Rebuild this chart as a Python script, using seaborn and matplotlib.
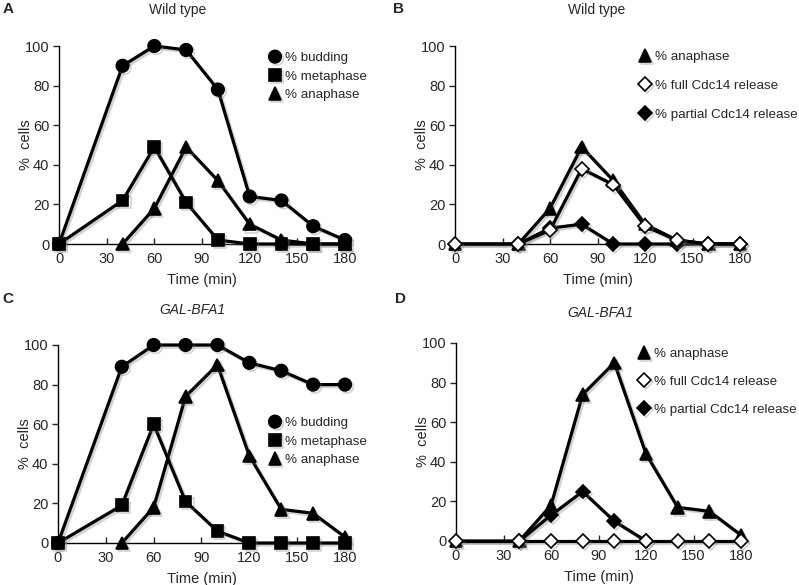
import matplotlib
matplotlib.use("Agg")
import matplotlib.pyplot as plt
import matplotlib.patheffects as pe
from matplotlib.lines import Line2D
import seaborn as sns

sns.set_style("white")
plt.rcParams['font.family'] = ['Liberation Sans', 'DejaVu Sans']

time = [0, 40, 60, 80, 100, 120, 140, 160, 180]
time_from40 = [40, 60, 80, 100, 120, 140, 160, 180]
time_d_partial = [40, 60, 80, 100, 120]

# panel A - wild type
wt_budding = [0, 90, 100, 98, 78, 24, 22, 9, 2]
wt_metaphase = [0, 22, 49, 21, 2, 0, 0, 0, 0]
wt_anaphase_a = [0, 18, 49, 32, 10, 2, 0, 0]

# panel B - wild type Cdc14
wt_anaphase_b = [0, 0, 18, 49, 32, 10, 2, 0, 0]
wt_full = [0, 0, 7, 38, 30, 9, 2, 0, 0]
wt_partial = [0, 8, 10, 0, 0, 0, 0, 0]

# panel C - GAL-BFA1
gal_budding = [0, 89, 100, 100, 100, 91, 87, 80, 80]
gal_metaphase = [0, 19, 60, 21, 6, 0, 0, 0, 0]
gal_anaphase_c = [0, 18, 74, 90, 44, 17, 15, 3]

# panel D - GAL-BFA1 Cdc14
gal_anaphase_d = [0, 0, 18, 74, 90, 44, 17, 15, 3]
gal_full = [0, 0, 0, 0, 0, 0, 0, 0, 0]
gal_partial = [0, 13, 25, 10, 0]

W, H = 799, 585
fig = plt.figure(figsize=(W / 100, H / 100), dpi=100)

shadow = [pe.SimpleLineShadow(offset=(1.5, -1.5), alpha=0.35, shadow_color='gray'), pe.Normal()]


def px_axes(l, t, r, b):
    return fig.add_axes([l / W, 1 - b / H, (r - l) / W, (b - t) / H])


def style(ax):
    ax.set_xlim(0, 180)
    ax.set_ylim(0, 100)
    ax.set_xticks([0, 30, 60, 90, 120, 150, 180])
    ax.set_yticks([0, 20, 40, 60, 80, 100])
    for s in ['top', 'right']:
        ax.spines[s].set_visible(False)
    for s in ['left', 'bottom']:
        ax.spines[s].set_color('black')
        ax.spines[s].set_linewidth(1)
    ax.tick_params(axis='y', direction='out', length=4, width=1, labelsize=10.5, pad=3, left=True)
    ax.tick_params(axis='x', direction='in', length=4, width=1, labelsize=10.5, pad=6, bottom=True)
    ax.set_xlabel("Time (min)", fontsize=10.5, labelpad=5)
    ax.set_ylabel("%  cells", fontsize=10.5, labelpad=-6)


def series(ax, x, y, marker, ms, mfc='black', z=3):
    sns.lineplot(x=x, y=y, ax=ax, color='black', lw=2.3, marker=marker, markersize=ms,
                 markerfacecolor=mfc, markeredgecolor='black', markeredgewidth=1.2,
                 clip_on=False, zorder=z, path_effects=shadow, errorbar=None)


def legend(ax, entries, x, y, spacing):
    handles = [Line2D([], [], ls='none', marker=m, markersize=s, markerfacecolor=f,
                      markeredgecolor='black', markeredgewidth=1.2, path_effects=shadow)
               for m, s, f, _ in entries]
    labels = [e[3] for e in entries]
    ax.legend(handles, labels, loc='upper left', bbox_to_anchor=(x / W, 1 - y / H),
              bbox_transform=fig.transFigure, frameon=False, fontsize=9.6,
              handlelength=0.9, handletextpad=0.3, borderpad=0, borderaxespad=0,
              labelspacing=spacing)


# A
axA = px_axes(59, 46, 345, 244)
series(axA, time, wt_budding, 'o', 9)
series(axA, time_from40, wt_anaphase_a, '^', 9)
series(axA, time, wt_metaphase, 's', 8.5)
style(axA)
legend(axA, [('o', 9, 'black', '% budding'), ('s', 8.5, 'black', '% metaphase'),
             ('^', 9, 'black', '% anaphase')], 269, 52, 0.45)

# B
axB = px_axes(455, 46, 740, 244)
series(axB, time, wt_anaphase_b, '^', 9)
series(axB, time_from40, wt_partial, 'D', 7)
series(axB, time, wt_full, 'D', 7, mfc='white', z=4)
style(axB)
legend(axB, [('^', 9, 'black', '% anaphase'), ('D', 7, 'white', '% full Cdc14 release'),
             ('D', 7, 'black', '% partial Cdc14 release')], 639, 51, 1.22)

# C
axC = px_axes(58, 345, 345, 543)
series(axC, time, gal_budding, 'o', 9)
series(axC, time_from40, gal_anaphase_c, '^', 9)
series(axC, time, gal_metaphase, 's', 8.5)
style(axC)
legend(axC, [('o', 9, 'black', '% budding'), ('s', 8.5, 'black', '% metaphase'),
             ('^', 9, 'black', '% anaphase')], 269, 417, 0.45)

# D
axD = px_axes(456, 343, 741, 541)
series(axD, time, gal_anaphase_d, '^', 9)
series(axD, time_d_partial, gal_partial, 'D', 7)
series(axD, time, gal_full, 'D', 7, mfc='white', z=4)
style(axD)
legend(axD, [('^', 9, 'black', '% anaphase'), ('D', 7, 'white', '% full Cdc14 release'),
             ('D', 7, 'black', '% partial Cdc14 release')], 638, 348, 1.15)

# titles and panel letters
fig.text(178 / W, 1 - 10 / H, "Wild type", ha='center', va='center', fontsize=10)
fig.text(597 / W, 1 - 10 / H, "Wild type", ha='center', va='center', fontsize=10)
fig.text(192 / W, 1 - 310 / H, "GAL-BFA1", ha='center', va='center', fontsize=10, style='italic')
fig.text(600 / W, 1 - 313 / H, "GAL-BFA1", ha='center', va='center', fontsize=10, style='italic')
for letter, x, y in [('A', 8, 9), ('B', 398, 9), ('C', 8, 299), ('D', 400, 299)]:
    fig.text(x / W, 1 - y / H, letter, ha='center', va='center', fontsize=11, fontweight='bold')

fig.savefig("out.png", dpi=100)
